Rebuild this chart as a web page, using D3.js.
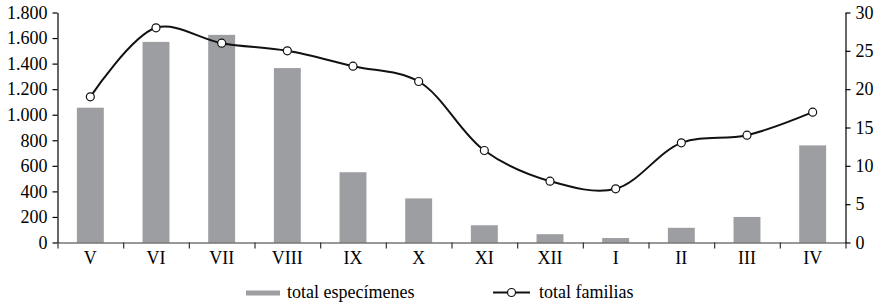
<!DOCTYPE html>
<html>
<head>
<meta charset="utf-8">
<script src="https://cdn.jsdelivr.net/npm/d3@7"></script>
<style>
	body { margin: 0; background: #fff; }
	svg { display: block; font-family: "Liberation Serif", "Times New Roman", serif; }
</style>
</head>
<body>
<svg id="chart" width="884" height="304"></svg>
<script>
// months, counts
const months = ["V", "VI", "VII", "VIII", "IX", "X", "XI", "XII", "I", "II", "III", "IV"];
const especimenes = [1055, 1570, 1625, 1365, 550, 345, 135, 65, 35, 115, 200, 760];
const familias = [19, 28, 26, 25, 23, 21, 12, 8, 7, 13, 14, 17];
const leftTicks = [0, 200, 400, 600, 800, 1000, 1200, 1400, 1600, 1800];
const rightTicks = [0, 5, 10, 15, 20, 25, 30];

const width = 884, height = 304;
const margin = {top: 12.5, right: 38.5, bottom: 61.5, left: 57.5};

const svg = d3.select("#chart");

const locale = d3.formatLocale({decimal: ",", thousands: ".", grouping: [3], currency: ["", ""]});
const fmt = locale.format(",");

const x = d3.scaleBand()
	.domain(months)
	.range([margin.left, width - margin.right])
	.paddingInner(0.59)
	.paddingOuter(0.295);

// boundaries between months, for the bottom tick marks
const xEdge = d3.scaleLinear()
	.domain([0, months.length])
	.range([margin.left, width - margin.right]);

const yL = d3.scaleLinear()
	.domain([0, 1800])
	.range([height - margin.bottom, margin.top]);

const yR = d3.scaleLinear()
	.domain([0, 30])
	.range([height - margin.bottom, margin.top]);

// axis text: serif, black, 18px
const styleAxis = g => {
	g.attr("font-family", null).attr("font-size", null);
	g.selectAll("line, path").attr("stroke", "#000").attr("stroke-width", 1.2);
	g.selectAll("text").attr("font-size", 18).attr("fill", "#000");
};

// bars
svg.append("g")
	.attr("fill", "#9d9ea2")
	.selectAll("rect").data(months).enter()
	.append("rect")
	.attr("x", d => x(d))
	.attr("y", (d, i) => yL(especimenes[i]))
	.attr("width", x.bandwidth())
	.attr("height", (d, i) => yL(0) - yL(especimenes[i]));

// left axis
svg.append("g")
	.attr("transform", `translate(${margin.left},0)`)
	.call(d3.axisLeft(yL).tickValues(leftTicks).tickFormat(fmt).tickSize(5).tickPadding(5).tickSizeOuter(0))
	.call(styleAxis);

// right axis
svg.append("g")
	.attr("transform", `translate(${width - margin.right},0)`)
	.call(d3.axisRight(yR).tickValues(rightTicks).tickSize(5).tickPadding(5).tickSizeOuter(0))
	.call(styleAxis);

// bottom axis: tick marks between months
svg.append("g")
	.attr("transform", `translate(0,${height - margin.bottom})`)
	.call(d3.axisBottom(xEdge).tickValues(d3.range(months.length + 1)).tickFormat("").tickSize(6).tickSizeOuter(0))
	.call(styleAxis)
	.call(g => g.selectAll("line, path").attr("stroke", "#333"));

// bottom axis: month labels
svg.append("g")
	.attr("transform", `translate(0,${height - margin.bottom})`)
	.call(d3.axisBottom(x).tickSize(0).tickPadding(9))
	.call(styleAxis)
	.call(g => g.select(".domain").remove());

// line
const cx = d => x(d) + x.bandwidth() / 2;
const line = d3.line()
	.x(d => cx(d))
	.y((d, i) => yR(familias[i]))
	.curve(d3.curveCatmullRom.alpha(0.5));

svg.append("path")
	.datum(months)
	.attr("fill", "none")
	.attr("stroke", "#111")
	.attr("stroke-width", 2)
	.attr("d", line);

svg.append("g")
	.selectAll("circle").data(months).enter()
	.append("circle")
	.attr("cx", d => cx(d))
	.attr("cy", (d, i) => yR(familias[i]))
	.attr("r", 4)
	.attr("fill", "#fff")
	.attr("stroke", "#111")
	.attr("stroke-width", 1.2);

// legend
const legend = svg.append("g").attr("font-size", 18);
legend.append("rect")
	.attr("x", 246).attr("y", 290.5).attr("width", 34).attr("height", 5)
	.attr("fill", "#9d9ea2");
legend.append("text")
	.attr("x", 287).attr("y", 298)
	.text("total especímenes");
legend.append("line")
	.attr("x1", 493).attr("x2", 530).attr("y1", 292.5).attr("y2", 292.5)
	.attr("stroke", "#111").attr("stroke-width", 2);
legend.append("circle")
	.attr("cx", 511.5).attr("cy", 292.5).attr("r", 4)
	.attr("fill", "#fff").attr("stroke", "#111").attr("stroke-width", 1.2);
legend.append("text")
	.attr("x", 539).attr("y", 298)
	.text("total familias");
</script>
</body>
</html>
